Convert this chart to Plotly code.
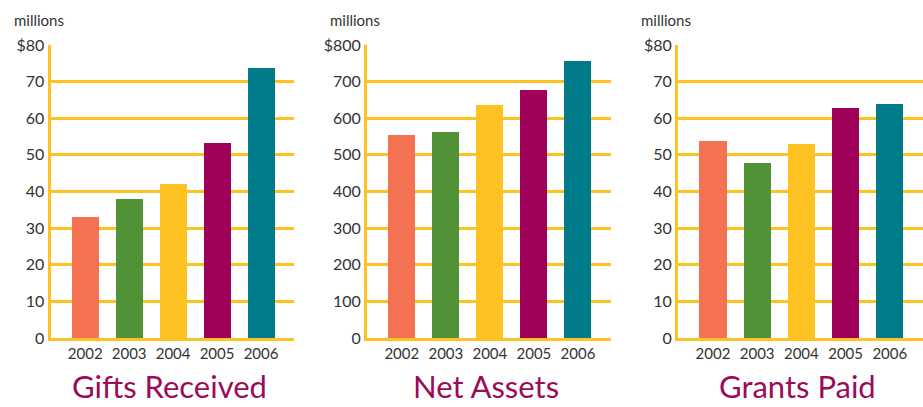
import plotly.graph_objects as go

years = ["2002", "2003", "2004", "2005", "2006"]
gifts_received = [33.0, 37.9, 42.0, 53.2, 73.7]
net_assets = [554, 563, 636, 677, 757]
grants_paid = [53.8, 47.8, 53.0, 62.8, 63.9]
bar_colors = ["#f37252", "#529236", "#fec223", "#9e005a", "#007b89"]
titles = ["Gifts Received", "Net Assets", "Grants Paid"]
y_ticks_small = [0, 10, 20, 30, 40, 50, 60, 70, 80]
y_ticks_big = [0, 100, 200, 300, 400, 500, 600, 700, 800]

W, H = 923, 407
GOLD = "#fec223"
FONT = "Lato, 'Open Sans', sans-serif"

panels = [
    (gifts_received, y_ticks_small, 50.5, 294),
    (net_assets, y_ticks_big, 367, 611),
    (grants_paid, y_ticks_small, 678, 923),
]

fig = go.Figure()
top_px, bot_px = 45, 338
ydom = [(H - bot_px) / H, (H - top_px) / H]

for i, (vals, ticks, x0, x1) in enumerate(panels):
    n = "" if i == 0 else str(i + 1)
    fig.add_trace(go.Bar(
        x=list(range(len(years))), y=vals,
        marker=dict(color=bar_colors, line=dict(width=0)),
        width=0.614, xaxis="x" + n, yaxis="y" + n, showlegend=False,
    ))
    ticktext = [("$" + str(t)) if t == ticks[-1] else str(t) for t in ticks]
    fig.update_layout(**{
        "xaxis" + n: dict(
            domain=[x0 / W, x1 / W], range=[-0.79, 4.75],
            tickvals=list(range(len(years))), ticktext=years,
            showline=True, linecolor=GOLD, linewidth=3,
            showgrid=False, zeroline=False, ticks="",
            tickfont=dict(size=15, color="#333333", family=FONT),
            anchor="y" + n, fixedrange=True, automargin=False,
        ),
        "yaxis" + n: dict(
            domain=ydom, range=[0, ticks[-1]],
            tickvals=ticks, ticktext=ticktext,
            showline=True, linecolor=GOLD, linewidth=3,
            showgrid=True, gridcolor=GOLD, gridwidth=3,
            zeroline=False, ticks="",
            tickfont=dict(size=16, color="#333333", family=FONT),
            anchor="x" + n, fixedrange=True, automargin=False,
        ),
    })
    fig.add_annotation(
        x=(x0 - 39) / W, y=(H - 20) / H, xref="paper", yref="paper",
        text="millions", showarrow=False, xanchor="left", yanchor="middle",
        font=dict(size=15, color="#333333", family=FONT),
    )
    fig.add_annotation(
        x=((x0 + x1) / 2 - 3) / W, y=0, xref="paper", yref="paper",
        text=titles[i], showarrow=False, xanchor="center", yanchor="bottom",
        font=dict(size=31, color="#9b0b59", family=FONT),
    )

fig.update_layout(
    width=W, height=H,
    margin=dict(l=0, r=0, t=0, b=0, autoexpand=False),
    paper_bgcolor="white", plot_bgcolor="white",
    bargap=0,
)

fig.write_html(
    "out.html",
    config={"displayModeBar": False},
    post_script="document.body.style.margin='0';document.body.style.overflow='hidden';",
)
